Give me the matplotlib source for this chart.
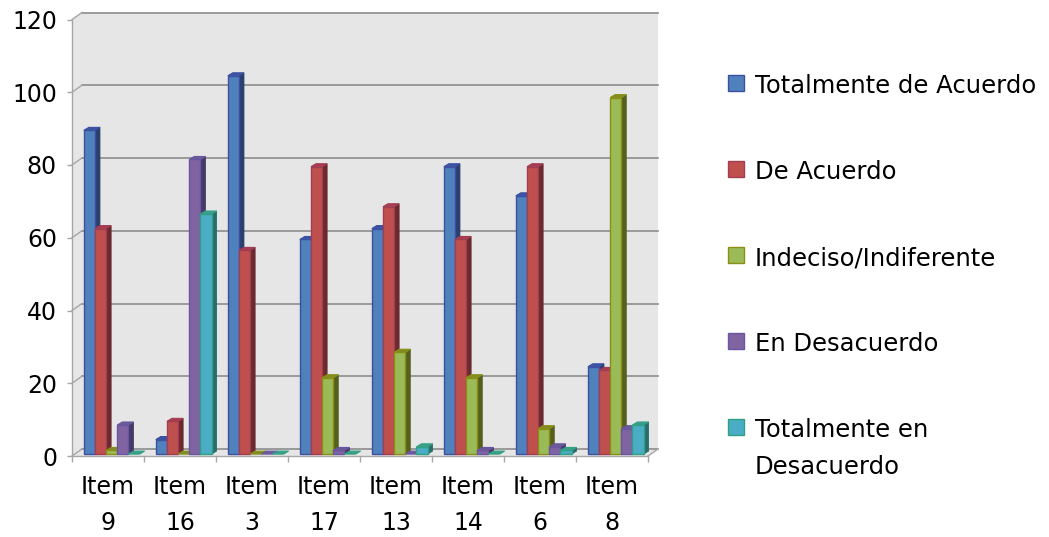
import matplotlib
matplotlib.use("Agg")
import matplotlib.pyplot as plt
from matplotlib.patches import Polygon, Rectangle
from matplotlib.lines import Line2D

# --- data -------------------------------------------------------------
categories = ["Item\n9", "Item\n16", "Item\n3", "Item\n17",
              "Item\n13", "Item\n14", "Item\n6", "Item\n8"]
series_names = ["Totalmente de Acuerdo", "De Acuerdo", "Indeciso/Indiferente",
                "En Desacuerdo", "Totalmente en\nDesacuerdo"]
totalmente_de_acuerdo = [89, 4, 104, 59, 62, 79, 71, 24]
de_acuerdo = [62, 9, 56, 79, 68, 59, 79, 23]
indeciso = [1, 0, 0, 21, 28, 21, 7, 98]
en_desacuerdo = [8, 81, 0, 1, 0, 1, 2, 7]
totalmente_en_desacuerdo = [0, 66, 0, 0, 2, 0, 1, 8]
values = [totalmente_de_acuerdo, de_acuerdo, indeciso,
          en_desacuerdo, totalmente_en_desacuerdo]
y_ticks = [0, 20, 40, 60, 80, 100, 120]

# face colours: front, outline, side, top
palette = [
    ("#4F81BD", "#3C4FA0", "#2B3F6C", "#3A55A5"),
    ("#C0504D", "#A23C55", "#6B2A2E", "#A83E4E"),
    ("#9BBB59", "#8A8F14", "#55601F", "#7E8C26"),
    ("#8064A2", "#6A56A0", "#45396A", "#6B5B99"),
    ("#4BACC6", "#2FA080", "#2A6B6E", "#3A9E90"),
]

W, H = 1049, 537
fig = plt.figure(figsize=(W / 100, H / 100), dpi=100)
fig.patch.set_facecolor("white")

# axes = front plane of the 3-D box
ax_left, ax_right, ax_bottom, ax_top = 72, 648, 456, 19.5
ax = fig.add_axes([ax_left / W, (H - ax_bottom) / H,
                   (ax_right - ax_left) / W, (ax_bottom - ax_top) / H])
n = len(categories)
ax.set_xlim(0, n)
ax.set_ylim(0, 120)
ax.set_facecolor("none")

px_x = (ax_right - ax_left) / n        # pixels per category
px_y = (ax_bottom - ax_top) / 120      # pixels per unit

def dx(p):
    return p / px_x

def dy(p):
    return p / px_y

wall_x, wall_y = dx(10), dy(7)
grid_col = "#8C8C8C"
axis_col = "#A6A6A6"

# back wall + side wall + floor
wall = Polygon([(0, 0), (0, 120), (wall_x, 120 + wall_y), (n + wall_x, 120 + wall_y),
                (n + wall_x, wall_y), (n, 0)], closed=True,
               facecolor="#E6E6E6", edgecolor="none", zorder=0, clip_on=False)
ax.add_patch(wall)
for v in y_ticks:
    ax.add_line(Line2D([wall_x, n + wall_x], [v + wall_y, v + wall_y],
                       color=grid_col, lw=1.2, zorder=1, clip_on=False))
    ax.add_line(Line2D([0, wall_x], [v, v + wall_y],
                       color=axis_col, lw=1.0, zorder=1, clip_on=False))
ax.add_line(Line2D([n, n + wall_x], [0, wall_y], color=axis_col, lw=1.0,
                   zorder=1, clip_on=False))

# bars
bar_w = 0.155
off_x, off_y = dx(3.7), dy(1.9)
dep_x, dep_y = dx(5), dy(3)
z = 2
for i in range(n):
    c = i + 0.5
    for s, vals in enumerate(values):
        v = vals[i]
        front, edge, side, top = palette[s]
        x0 = c - 2.5 * bar_w + s * bar_w + off_x
        x1 = x0 + bar_w
        y0 = off_y
        y1 = off_y + v
        if v > 0:
            ax.add_patch(Polygon([(x1, y0), (x1 + dep_x, y0 + dep_y),
                                  (x1 + dep_x, y1 + dep_y), (x1, y1)],
                                 closed=True, facecolor=side, edgecolor=side,
                                 lw=0.6, zorder=z, clip_on=False))
            ax.add_patch(Rectangle((x0, y0), bar_w, v, facecolor=front,
                                   edgecolor=edge, lw=1.0, zorder=z + 1,
                                   clip_on=False))
        ax.add_patch(Polygon([(x0, y1), (x1, y1), (x1 + dep_x, y1 + dep_y),
                              (x0 + dep_x, y1 + dep_y)], closed=True,
                             facecolor=top, edgecolor=edge, lw=0.8,
                             zorder=z + 2, clip_on=False))
        z += 3

# axes styling
for side_name in ("top", "right"):
    ax.spines[side_name].set_visible(False)
for side_name in ("left", "bottom"):
    ax.spines[side_name].set_color(axis_col)
    ax.spines[side_name].set_linewidth(1.0)
    ax.spines[side_name].set_zorder(1)

ax.set_yticks(y_ticks)
ax.set_yticklabels([str(t) for t in y_ticks], fontsize=17)
ax.tick_params(axis="y", length=3.6, width=1.0, color=axis_col, pad=7.2)

ax.set_xticks(range(n + 1))
ax.set_xticklabels([])
ax.set_xticks([i + 0.5 for i in range(n)], minor=True)
ax.set_xticklabels(categories, minor=True, fontsize=17, linespacing=1.62)
ax.tick_params(axis="x", which="major", length=4.3, width=1.0, color=axis_col)
ax.tick_params(axis="x", which="minor", length=0, pad=13.5)

# legend
leg_x_sq, leg_x_txt = 728, 755
leg_y0, leg_step, sq, line_step = 82.5, 86, 16, 37
for s, name in enumerate(series_names):
    yc = leg_y0 + s * leg_step
    front, edge, _, _ = palette[s]
    fig.patches.append(Rectangle((leg_x_sq / W, 1 - (yc + sq / 2) / H), sq / W, sq / H,
                                 transform=fig.transFigure, facecolor=front,
                                 edgecolor=edge, lw=1.0))
    for k, line in enumerate(name.split("\n")):
        fig.text(leg_x_txt / W, 1 - (yc + 10.5 + k * line_step) / H, line,
                 fontsize=17.5, ha="left", va="baseline")

fig.savefig("out.png", dpi=100)
